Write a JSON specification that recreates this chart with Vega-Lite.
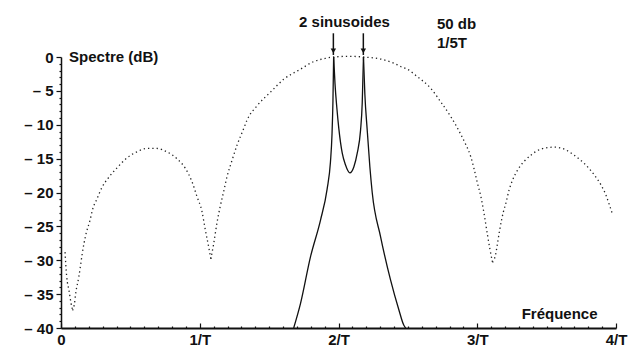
{
  "$schema": "https://vega.github.io/schema/vega-lite/v6.json",
  "width": 555,
  "height": 271,
  "autosize": {"type": "none"},
  "padding": {"left": 61, "top": 57, "right": 16, "bottom": 22},
  "background": "white",
  "config": {
    "view": {"stroke": null},
    "font": "Liberation Sans",
    "axis": {"labelFont": "Liberation Sans", "labelFontWeight": "bold", "labelFontSize": 15, "labelColor": "#111", "domainColor": "#111", "tickColor": "#111", "grid": false, "title": null, "labelOverlap": false, "labelFlush": false}
  },
  "datasets": {
    "dotted": [
      {"f": 0.029, "db": -28.8, "lobe": "a"},
      {"f": 0.041, "db": -32.4, "lobe": "a"},
      {"f": 0.058, "db": -34.5, "lobe": "a"},
      {"f": 0.072, "db": -36.3, "lobe": "a"},
      {"f": 0.084, "db": -37.4, "lobe": "a"},
      {"f": 0.084, "db": -37.4, "lobe": "b"},
      {"f": 0.096, "db": -36.5, "lobe": "b"},
      {"f": 0.108, "db": -34.6, "lobe": "b"},
      {"f": 0.128, "db": -32.5, "lobe": "b"},
      {"f": 0.142, "db": -30.6, "lobe": "b"},
      {"f": 0.154, "db": -28.9, "lobe": "b"},
      {"f": 0.178, "db": -26.3, "lobe": "b"},
      {"f": 0.209, "db": -24.1, "lobe": "b"},
      {"f": 0.229, "db": -22.4, "lobe": "b"},
      {"f": 0.258, "db": -21.0, "lobe": "b"},
      {"f": 0.294, "db": -19.3, "lobe": "b"},
      {"f": 0.339, "db": -17.9, "lobe": "b"},
      {"f": 0.402, "db": -16.4, "lobe": "b"},
      {"f": 0.475, "db": -14.9, "lobe": "b"},
      {"f": 0.547, "db": -14.0, "lobe": "b"},
      {"f": 0.619, "db": -13.5, "lobe": "b"},
      {"f": 0.691, "db": -13.5, "lobe": "b"},
      {"f": 0.763, "db": -14.0, "lobe": "b"},
      {"f": 0.835, "db": -15.0, "lobe": "b"},
      {"f": 0.895, "db": -16.4, "lobe": "b"},
      {"f": 0.944, "db": -18.4, "lobe": "b"},
      {"f": 0.980, "db": -20.6, "lobe": "b"},
      {"f": 1.016, "db": -22.8, "lobe": "b"},
      {"f": 1.040, "db": -25.5, "lobe": "b"},
      {"f": 1.064, "db": -28.0, "lobe": "b"},
      {"f": 1.080, "db": -29.8, "lobe": "b"},
      {"f": 1.080, "db": -29.8, "lobe": "c"},
      {"f": 1.100, "db": -27.6, "lobe": "c"},
      {"f": 1.124, "db": -24.5, "lobe": "c"},
      {"f": 1.148, "db": -22.0, "lobe": "c"},
      {"f": 1.172, "db": -19.9, "lobe": "c"},
      {"f": 1.196, "db": -17.7, "lobe": "c"},
      {"f": 1.232, "db": -15.3, "lobe": "c"},
      {"f": 1.269, "db": -13.0, "lobe": "c"},
      {"f": 1.316, "db": -10.6, "lobe": "c"},
      {"f": 1.341, "db": -9.3, "lobe": "c"},
      {"f": 1.413, "db": -7.2, "lobe": "c"},
      {"f": 1.509, "db": -5.2, "lobe": "c"},
      {"f": 1.605, "db": -3.3, "lobe": "c"},
      {"f": 1.726, "db": -1.8, "lobe": "c"},
      {"f": 1.819, "db": -0.7, "lobe": "c"},
      {"f": 1.906, "db": -0.2, "lobe": "c"},
      {"f": 1.965, "db": 0.0, "lobe": "c"},
      {"f": 2.080, "db": 0.1, "lobe": "c"},
      {"f": 2.180, "db": 0.0, "lobe": "c"},
      {"f": 2.303, "db": -0.3, "lobe": "c"},
      {"f": 2.397, "db": -0.9, "lobe": "c"},
      {"f": 2.448, "db": -1.4, "lobe": "c"},
      {"f": 2.496, "db": -1.8, "lobe": "c"},
      {"f": 2.568, "db": -2.9, "lobe": "c"},
      {"f": 2.664, "db": -4.6, "lobe": "c"},
      {"f": 2.736, "db": -6.6, "lobe": "c"},
      {"f": 2.809, "db": -8.8, "lobe": "c"},
      {"f": 2.881, "db": -11.4, "lobe": "c"},
      {"f": 2.917, "db": -12.9, "lobe": "c"},
      {"f": 2.953, "db": -14.7, "lobe": "c"},
      {"f": 2.977, "db": -16.5, "lobe": "c"},
      {"f": 3.001, "db": -18.6, "lobe": "c"},
      {"f": 3.025, "db": -20.5, "lobe": "c"},
      {"f": 3.049, "db": -23.1, "lobe": "c"},
      {"f": 3.074, "db": -26.3, "lobe": "c"},
      {"f": 3.090, "db": -28.2, "lobe": "c"},
      {"f": 3.110, "db": -30.3, "lobe": "c"},
      {"f": 3.110, "db": -30.3, "lobe": "d"},
      {"f": 3.134, "db": -29.0, "lobe": "d"},
      {"f": 3.146, "db": -27.5, "lobe": "d"},
      {"f": 3.162, "db": -25.5, "lobe": "d"},
      {"f": 3.189, "db": -22.8, "lobe": "d"},
      {"f": 3.206, "db": -21.6, "lobe": "d"},
      {"f": 3.230, "db": -19.6, "lobe": "d"},
      {"f": 3.254, "db": -18.2, "lobe": "d"},
      {"f": 3.290, "db": -16.7, "lobe": "d"},
      {"f": 3.338, "db": -15.4, "lobe": "d"},
      {"f": 3.386, "db": -14.5, "lobe": "d"},
      {"f": 3.458, "db": -13.6, "lobe": "d"},
      {"f": 3.555, "db": -13.3, "lobe": "d"},
      {"f": 3.627, "db": -13.6, "lobe": "d"},
      {"f": 3.699, "db": -14.5, "lobe": "d"},
      {"f": 3.771, "db": -15.7, "lobe": "d"},
      {"f": 3.843, "db": -17.4, "lobe": "d"},
      {"f": 3.892, "db": -18.9, "lobe": "d"},
      {"f": 3.928, "db": -20.4, "lobe": "d"},
      {"f": 3.952, "db": -21.8, "lobe": "d"},
      {"f": 3.976, "db": -23.3, "lobe": "d"}
    ],
    "solid": [
      {"f": 1.677, "db": -40.0, "seg": "L"},
      {"f": 1.726, "db": -36.4, "seg": "L"},
      {"f": 1.798, "db": -29.5, "seg": "L"},
      {"f": 1.870, "db": -24.1, "seg": "L"},
      {"f": 1.918, "db": -19.5, "seg": "L"},
      {"f": 1.942, "db": -15.5, "seg": "L"},
      {"f": 1.953, "db": -11.5, "seg": "L"},
      {"f": 1.960, "db": -6.5, "seg": "L"},
      {"f": 1.965, "db": 0.0, "seg": "L"},
      {"f": 1.965, "db": 0.0, "seg": "M"},
      {"f": 1.975, "db": -4.0, "seg": "M"},
      {"f": 1.988, "db": -7.5, "seg": "M"},
      {"f": 2.002, "db": -10.5, "seg": "M"},
      {"f": 2.027, "db": -14.2, "seg": "M"},
      {"f": 2.050, "db": -15.9, "seg": "M"},
      {"f": 2.082, "db": -17.1, "seg": "M"},
      {"f": 2.111, "db": -16.2, "seg": "M"},
      {"f": 2.135, "db": -14.2, "seg": "M"},
      {"f": 2.159, "db": -10.8, "seg": "M"},
      {"f": 2.171, "db": -6.8, "seg": "M"},
      {"f": 2.180, "db": 0.0, "seg": "M"},
      {"f": 2.180, "db": 0.0, "seg": "R"},
      {"f": 2.190, "db": -5.5, "seg": "R"},
      {"f": 2.207, "db": -10.8, "seg": "R"},
      {"f": 2.226, "db": -16.2, "seg": "R"},
      {"f": 2.243, "db": -20.0, "seg": "R"},
      {"f": 2.303, "db": -26.5, "seg": "R"},
      {"f": 2.375, "db": -32.9, "seg": "R"},
      {"f": 2.435, "db": -37.3, "seg": "R"},
      {"f": 2.471, "db": -39.6, "seg": "R"},
      {"f": 2.484, "db": -40.0, "seg": "R"}
    ],
    "arrows": [
      {"f": 1.963, "db": 3.5, "db2": 0.3},
      {"f": 2.179, "db": 3.5, "db2": 0.3}
    ],
    "heads": [
      {"f": 1.963, "db": 0.9},
      {"f": 2.179, "db": 0.9}
    ],
    "labelsCenter": [
      {"f": 2.043, "db": 5.1, "txt": "2 sinusoides"}
    ],
    "labelsLeft": [
      {"f": 2.71, "db": 4.8, "txt": "50 db"},
      {"f": 2.71, "db": 2.0, "txt": "1/5T"},
      {"f": 0.058, "db": 0.0, "txt": "Spectre (dB)"},
      {"f": 3.32, "db": -38.0, "txt": "Fréquence"}
    ]
  },
  "encoding": {
    "x": {
      "field": "f", "type": "quantitative",
      "scale": {"domain": [0, 4], "nice": false, "zero": false},
      "axis": {
        "values": [0,0.1,0.2,0.3,0.4,0.5,0.6,0.7,0.8,0.9,1,1.1,1.2,1.3,1.4,1.5,1.6,1.7,1.8,1.9,2,2.1,2.2,2.3,2.4,2.5,2.6,2.7,2.8,2.9,3,3.1,3.2,3.3,3.4,3.5,3.6,3.7,3.8,3.9,4],
        "labelExpr": "abs(datum.value - round(datum.value)) < 0.001 ? (round(datum.value) == 0 ? '0' : round(datum.value) + '/T') : ''",
        "domainWidth": 2,
        "tickSize": {"condition": {"test": "abs(datum.value - round(datum.value)) < 0.001", "value": -5}, "value": -2},
        "tickWidth": 1.2,
        "labelPadding": 9
      }
    },
    "y": {
      "field": "db", "type": "quantitative",
      "scale": {"domain": [-40, 0], "nice": false, "zero": false},
      "axis": {
        "values": [-40,-39,-38,-37,-36,-35,-34,-33,-32,-31,-30,-29,-28,-27,-26,-25,-24,-23,-22,-21,-20,-19,-18,-17,-16,-15,-14,-13,-12,-11,-10,-9,-8,-7,-6,-5,-4,-3,-2,-1,0],
        "labelExpr": "datum.value % 5 == 0 ? (datum.value == 0 ? '0' : '– ' + abs(datum.value)) : ''",
        "domainWidth": 1.5,
        "tickSize": {"condition": {"test": "datum.value % 5 == 0", "value": 5}, "value": 2},
        "tickWidth": 1.2,
        "labelPadding": 3
      }
    }
  },
  "layer": [
    {
      "data": {"name": "dotted"},
      "mark": {"type": "line", "interpolate": "monotone", "color": "#222", "strokeWidth": 1.3, "strokeDash": [1.3, 3], "clip": false},
      "encoding": {"detail": {"field": "lobe"}}
    },
    {
      "data": {"name": "solid"},
      "mark": {"type": "line", "interpolate": "monotone", "color": "#111", "strokeWidth": 1.3},
      "encoding": {"detail": {"field": "seg"}}
    },
    {
      "data": {"name": "arrows"},
      "mark": {"type": "rule", "color": "#111", "strokeWidth": 1.5},
      "encoding": {"y2": {"field": "db2"}}
    },
    {
      "data": {"name": "heads"},
      "mark": {"type": "point", "shape": "triangle-down", "filled": true, "color": "#111", "size": 30, "opacity": 1},
      "encoding": {}
    },
    {
      "data": {"name": "labelsCenter"},
      "mark": {"type": "text", "font": "Liberation Sans", "fontWeight": "bold", "fontSize": 15, "color": "#111", "baseline": "middle", "align": "center"},
      "encoding": {"text": {"field": "txt"}}
    },
    {
      "data": {"name": "labelsLeft"},
      "mark": {"type": "text", "font": "Liberation Sans", "fontWeight": "bold", "fontSize": 15, "color": "#111", "baseline": "middle", "align": "left"},
      "encoding": {"text": {"field": "txt"}}
    }
  ]
}
